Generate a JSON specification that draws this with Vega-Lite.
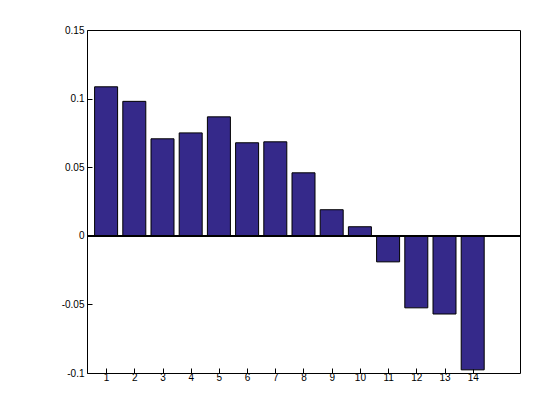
{
"$schema":"https://vega.github.io/schema/vega-lite/v6.json",
"width":433,"height":343,
"autosize":{"type":"none"},
"padding":{"left":87,"top":30,"right":40,"bottom":47},
"background":"white",
"config":{"view":{"stroke":"black","strokeWidth":1},"axis":{"labelFont":"Liberation Sans","labelFontSize":10,"labelColor":"black","domain":false,"grid":false,"tickColor":"black","tickSize":-5,"labelPadding":8}},
"data":{"values":[
{"x":1,"v":0.1086},{"x":2,"v":0.098},{"x":3,"v":0.0707},{"x":4,"v":0.075},{"x":5,"v":0.0867},{"x":6,"v":0.0678},{"x":7,"v":0.0685},{"x":8,"v":0.0459},{"x":9,"v":0.019},{"x":10,"v":0.0066},{"x":11,"v":-0.019},{"x":12,"v":-0.0525},{"x":13,"v":-0.057},{"x":14,"v":-0.0977}]},
"layer":[
{"mark":{"type":"bar","size":23,"color":"#35298a","stroke":"black","strokeWidth":1},
"encoding":{
"x":{"field":"x","type":"quantitative","scale":{"domain":[0.5,15.5],"nice":false,"zero":false},"axis":{"title":null,"values":[1,2,3,4,5,6,7,8,9,10,11,12,13,14],"labelPadding":4}},
"y":{"field":"v","type":"quantitative","scale":{"domain":[-0.1,0.15],"nice":false},"axis":{"title":null,"values":[-0.1,-0.05,0,0.05,0.1,0.15],"labelExpr":"replace(format(datum.value,'~g'),'−','-')"}},
"y2":{"datum":0}}},
{"mark":{"type":"rule","color":"black","strokeWidth":1},"encoding":{"y":{"datum":0}}}
]}
